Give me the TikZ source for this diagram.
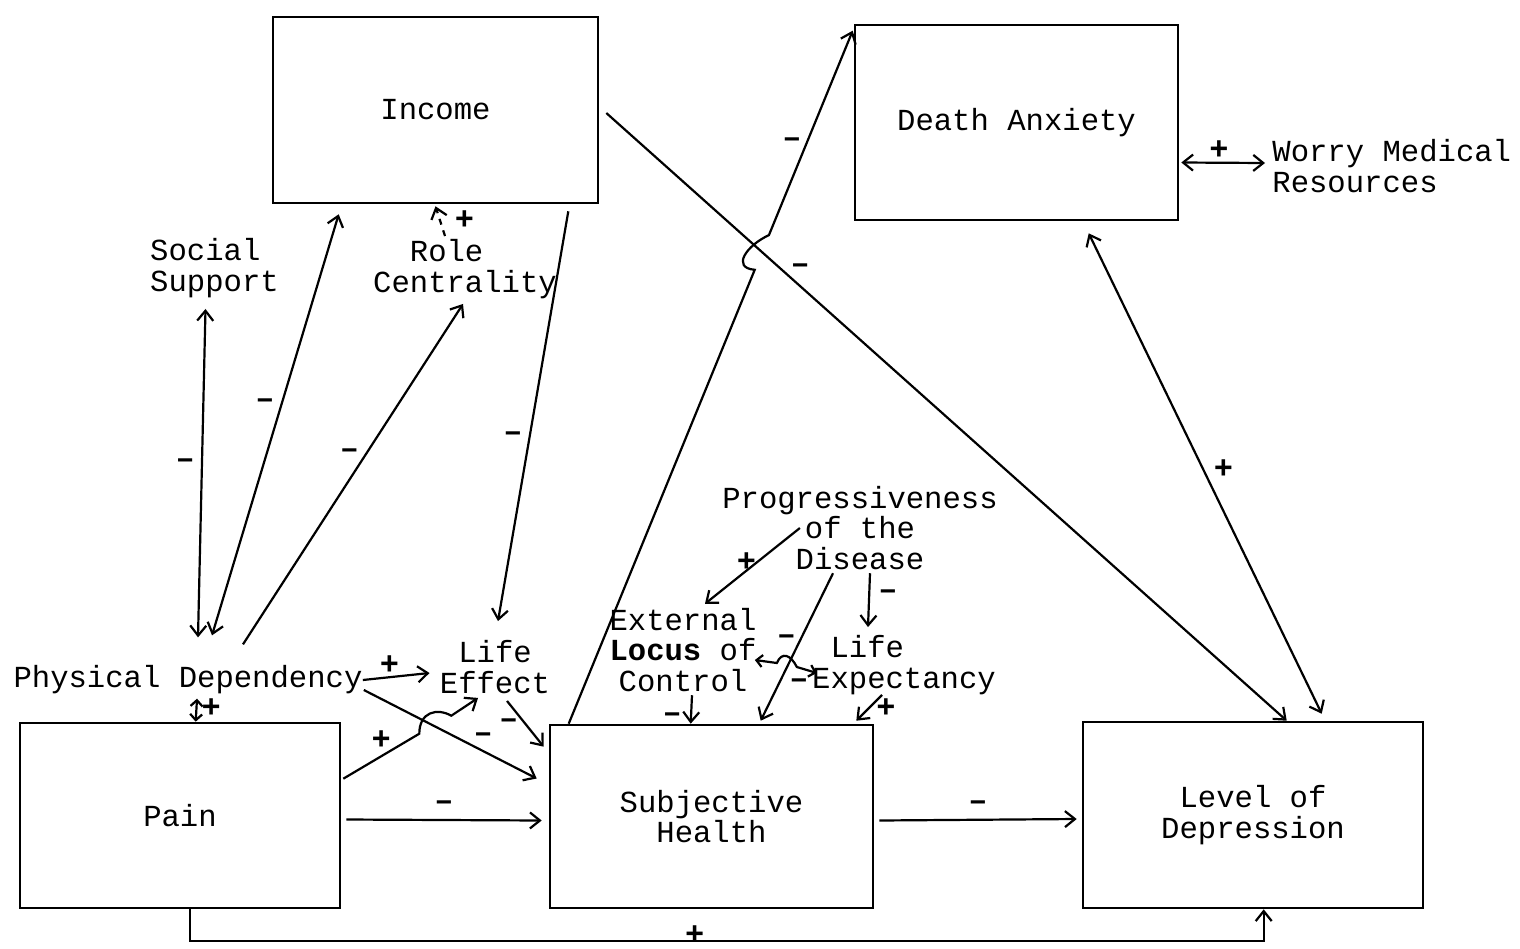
\documentclass[tikz,border=0pt]{standalone}
\usepackage{fontspec}
\setmonofont{Liberation Mono}
\usepackage{tikz}
\usetikzlibrary{positioning,arrows.meta,calc}
\newcommand{\diagfont}{\ttfamily\fontsize{15.3}{15.3}\selectfont}
\tikzset{
    box/.style={rectangle, draw, line width=1.3pt, align=center, font=\diagfont},
    var/.style={rectangle, inner sep=0pt, align=center, font=\diagfont},
    arrow/.style={-{Straight Barb[length=5pt, width=8pt]}, line width=1.1pt},
    biarrow/.style={{Straight Barb[length=5pt, width=8pt]}-{Straight Barb[length=5pt, width=8pt]}, line width=1.1pt},
    smallbi/.style={{Straight Barb[length=3pt, width=6pt]}-{Straight Barb[length=3pt, width=6pt]}, line width=1.1pt},
    sign/.style={inner sep=0pt, font=\ttfamily\bfseries\fontsize{16}{16}\selectfont}
}

\begin{document}
\begin{tikzpicture}[x=0.5pt, y=-0.5pt]
\useasboundingbox (0,0) rectangle (1520,948);

% ── Boxes ──
\node[box, minimum width=162.5pt, minimum height=93pt] (income) at (435.5,110) {Income};
\node[box, minimum width=161.5pt, minimum height=97.5pt] (deathanx) at (1016.5,122.5) {Death Anxiety};
\node[box, minimum width=160pt, minimum height=92.5pt] (pain) at (180,815.5) {Pain};
\node[box, minimum width=161.5pt, minimum height=91.5pt] (subj) at (711.5,816.5) {Subjective\\Health};
\node[box, minimum width=170pt, minimum height=93pt] (depr) at (1253,815) {Level of\\Depression};

% ── Variables ──
\node[var, align=left] (social) at (214.5,268) {Social\\Support};
\node[var, align=left] (role) at (465,269) {\hphantom{xx}Role\\Centrality};
\node[var] (physdep) at (188,680) {Physical Dependency};
\node[var] (lifeeff) at (495,667) {Life\\Effect};
\node[var] (prog) at (860,528) {Progressiveness\\of the\\Disease};
\node[var] (locus) at (683,650) {External\\\textbf{Locus} of\\Control};
\node[var, align=left] (lifeexp) at (904,665) {\hphantom{x}Life\\Expectancy};
\node[var, align=left, anchor=west] (worry) at (1272,166) {Worry Medical\\Resources};

% ── Upper paths ──
\draw[biarrow] ($(social.south)+(-9,11)$) -- node[sign, left=3pt, pos=0.47] {–} ($(physdep.north)+(10,-28)$);
\draw[biarrow] ($(income.south west)+(67,10)$) -- node[sign, left=3pt, pos=0.45] {–} ($(physdep.north)+(24,-30)$);
\draw[arrow] ($(physdep.north)+(55,-21)$) -- node[sign, left=3pt, pos=0.56] {–} ($(role.south)+(-2,5)$);
\draw[arrow, dashed] ($(role.north)+(-20,-3)$) -- node[sign, right=7pt, pos=0.55] {+} ($(income.south)+(0,2)$);
\draw[arrow] ($(income.south east)+(-31,7)$) -- node[sign, left=3pt, pos=0.55] {–} ($(lifeeff.north)+(3,-19)$);

% ── Subjective Health to Death Anxiety (jumps the Income line) ──
\coordinate (sdA) at ($(subj.north west)+(20,0)$);
\coordinate (sdB) at ($(deathanx.north west)+(-1,7)$);
\coordinate (j1) at ($(sdA)!0.655!(sdB)$);
\coordinate (j2) at ($(sdA)!0.705!(sdB)$);
\draw[arrow] (sdA) -- (j1) .. controls ($(j1)+(-24,-2)$) and ($(j2)+(-22,10)$) .. (j2) -- node[sign, left=2pt, pos=0.45] {–} (sdB);

\draw[arrow] ($(income.east)+(7,3)$) -- node[sign, above=6pt, pos=0.285] {–} ($(depr.north west)+(205,0)$);
\draw[biarrow] ($(deathanx.south west)+(235,12)$) -- node[sign, right=5pt, pos=0.49] {+} ($(depr.north west)+(240,-7)$);
\draw[biarrow] ($(deathanx.east)+(2,40)$) -- node[sign, above=1pt, pos=0.45] {+} ($(worry.west)+(-7,-3)$);

% ── Physical Dependency and Pain ──
\draw[smallbi] ($(physdep.south)+(9,4)$) -- node[sign, right=2pt, pos=0.4] {+} ($(pain.north west)+(177,0)$);
\draw[arrow] (physdep.east) -- node[sign, above=1pt, pos=0.4] {+} ($(lifeeff.west)+(-10,6)$);
\draw[arrow] ($(physdep.east)+(1,10)$) -- node[sign, above right=1pt, pos=0.62] {–} ($(subj.west)+(-12,-38)$);
\coordinate (pl1) at ($(pain.north east)+(78,12)$);
\coordinate (pl2) at ($(pain.north east)+(110,-6)$);
\draw[arrow] ($(pain.north east)+(2,57)$) -- node[sign, above=3pt, pos=0.5] {+} (pl1) .. controls ($(pl1)+(0,-22)$) and ($(pl2)+(-14,-8)$) .. (pl2) -- ($(lifeeff.south)+(-17,4)$);
\draw[arrow] ($(lifeeff.south)+(12,7)$) -- node[sign, left=3pt, pos=0.5] {–} ($(subj.north west)+(-5,23)$);

% ── Main chain ──
\draw[arrow] ($(pain.east)+(5,4)$) -- node[sign, above=4pt] {–} ($(subj.west)+(-7,4)$);
\draw[arrow] ($(subj.east)+(5,4)$) -- node[sign, above=4pt] {–} ($(depr.west)+(-5,4)$);
\draw[arrow] ($(pain.south)+(10,0)$) |- node[sign, above=-2pt, pos=0.735] {+} ($(depr.south west)+(182,32)$) -- ($(depr.south west)+(182,0)$);

% ── Progressiveness of the Disease ──
\draw[arrow] ($(prog.west)+(78,0)$) -- node[sign, left=0pt, pos=0.45] {+} ($(locus.north)+(22,-4)$);
\draw[arrow] ($(prog.south)+(-27,3)$) -- ($(subj.north west)+(212,-3)$);
\draw[arrow] ($(prog.south)+(10,3)$) -- node[sign, right=4pt, pos=0.4] {–} ($(lifeexp.north)+(-36,-8)$);
\coordinate (ll1) at ($(locus.east)+(20,13)$);
\coordinate (ll2) at ($(locus.east)+(40,17)$);
\draw[smallbi] ($(locus.east)+(-2,10)$) -- (ll1) .. controls ($(ll1)+(5,-12)$) and ($(ll2)+(-6,-12)$) .. node[sign, above=5pt, pos=0.5] {–} (ll2) -- node[sign, below=5pt, pos=0.1] {–} ($(lifeexp.west)+(5,8)$);
\draw[arrow] ($(locus.south)+(9,3)$) -- node[sign, left=4pt, pos=0.78] {–} ($(subj.north west)+(142,0)$);
\draw[arrow] ($(lifeexp.south)+(-22,0)$) -- node[sign, right=3pt, pos=0.5] {+} ($(subj.north east)+(-18,-3)$);

\end{tikzpicture}
\end{document}
